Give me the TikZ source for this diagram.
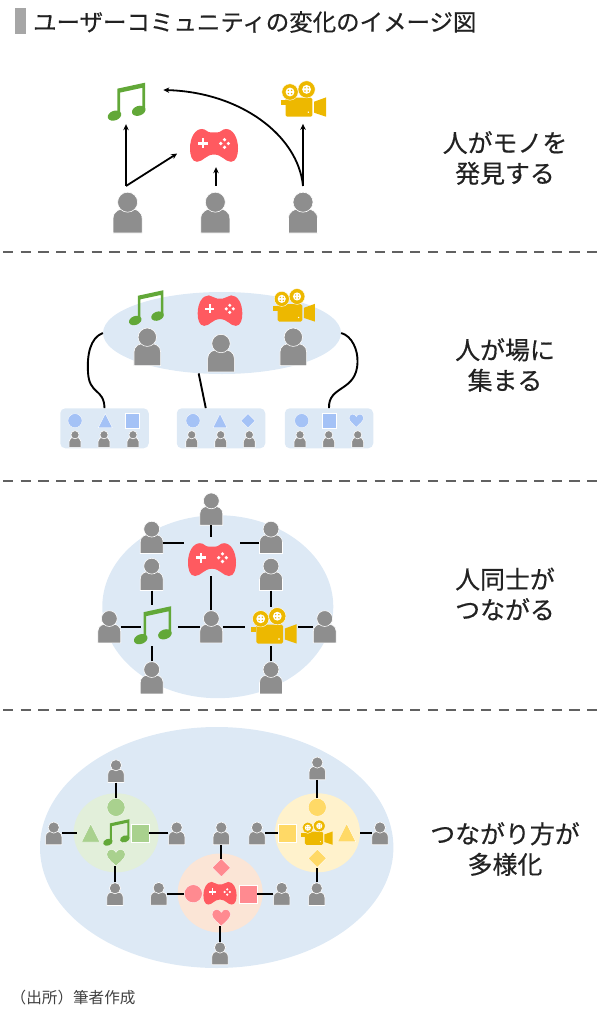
\documentclass[tikz,border=0pt]{standalone}
\usepackage{fontspec}
\newfontfamily\jpfont{Noto Sans CJK JP}
\newfontfamily\jpheavy[FakeBold=0.5]{Noto Sans CJK JP}
\usetikzlibrary{
	arrows.meta,
	shapes.geometric
}
\definecolor{usergray}{HTML}{8E8E8E}
\definecolor{notegreen}{HTML}{62A838}
\definecolor{padred}{HTML}{FF5A60}
\definecolor{camyellow}{HTML}{EDB800}
\definecolor{areablue}{HTML}{DDE9F5}
\definecolor{shapeblue}{HTML}{A4C2F6}
\definecolor{shapegreen}{HTML}{A9D18E}
\definecolor{shapered}{HTML}{FF8A90}
\definecolor{shapeyellow}{HTML}{FFD966}
\definecolor{bubblegreen}{HTML}{E2EFDA}
\definecolor{bubblered}{HTML}{FBE5D6}
\definecolor{bubbleyellow}{HTML}{FFF2CC}
\definecolor{inkdark}{HTML}{222222}
\tikzset{
	pics/userpic/.style = {code = {
		\path[fill=usergray, draw=white, line width=.6pt]
			(-14.5,20.5) -- (-14.5,6) .. controls (-14.5,-1) and (-9,-4) .. (0,-4)
			.. controls (9,-4) and (14.5,-1) .. (14.5,6) -- (14.5,20.5) -- cycle;
		\path[fill=usergray, draw=white, line width=.6pt] (0,-10.3) circle (10pt);
	}},
	pics/notepic/.style = {code = {
		\fill[notegreen] (-9.2,-13.3) -- (18.5,-19.3) -- (18.5,9) -- (15.8,9) -- (15.8,-14.2)
			-- (-6.5,-9.4) -- (-6.5,14) -- (-9.2,14) -- cycle;
		\fill[notegreen, rotate around={20:(-12,13.6)}] (-12,13.6) ellipse (7pt and 4.8pt);
		\fill[notegreen, rotate around={20:(12.2,8.8)}] (12.2,8.8) ellipse (7pt and 4.8pt);
	}},
	pics/padpic/.style = {code = {
		\fill[padred] (-17,16.3) .. controls (-22.5,16.3) and (-24,9) .. (-24,3)
			.. controls (-24,-8) and (-19,-16.5) .. (-12,-16.5)
			.. controls (-8,-16.5) and (-7,-13) .. (-3,-13) -- (3,-13)
			.. controls (7,-13) and (8,-16.5) .. (12,-16.5)
			.. controls (19,-16.5) and (24,-8) .. (24,3)
			.. controls (24,9) and (22.5,16.3) .. (17,16.3)
			.. controls (11,16.3) and (8,9) .. (0,9)
			.. controls (-8,9) and (-11,16.3) .. (-17,16.3) -- cycle;
		\fill[white] (-16,-3.3) rectangle (-6,-.7);
		\fill[white] (-12.3,-7) rectangle (-9.7,3);
		\foreach \dx/\dy in {0/-3.8, 0/3.8, -3.8/0, 3.8/0}
			\fill[white] (10.5+\dx,-2+\dy) circle (1.8pt);
	}},
	pics/campic/.style = {code = {
		\fill[camyellow, rounded corners=1.5pt] (-17.7,-1.5) rectangle (9,17.5);
		\fill[camyellow] (-22.7,.8) rectangle (-17.7,5.8);
		\fill[camyellow] (10.8,2.5) -- (22.7,-1.8) -- (22.7,17.5) -- (10.8,13.5) -- cycle;
		\foreach \rx/\ry/\rr in {-13.3/-7.2/8.2, 3.3/-9.8/8.6} {
			\path[fill=camyellow, draw=white, line width=.4pt] (\rx,\ry) circle (\rr pt);
			\fill[white] (\rx,\ry) circle (4.4pt);
			\foreach \dx/\dy in {-1.6/-1.6, -1.6/1.6, 1.6/-1.6, 1.6/1.6}
				\fill[camyellow] (\rx+\dx,\ry+\dy) circle (.8pt);
		}
		\fill[white] (5,13) circle (.8pt);
	}},
	pics/dotpic/.style = {code = {
		\path[fill=#1, draw=white, line width=.3pt] (0,0) circle (9pt);
	}},
	pics/tilepic/.style = {code = {
		\path[fill=#1, draw=white, line width=.3pt] (-9,-9) rectangle (9,9);
	}},
	pics/tripic/.style = {code = {
		\path[fill=#1, draw=white, line width=.3pt] (0,-9) -- (9,9) -- (-9,9) -- cycle;
	}},
	pics/gempic/.style = {code = {
		\path[fill=#1, draw=white, line width=.3pt] (0,-9) -- (9,0) -- (0,9) -- (-9,0) -- cycle;
	}},
	pics/heartpic/.style = {code = {
		\path[fill=#1, draw=white, line width=.3pt] (0,8.4) .. controls (-3,5) and (-9.3,1) .. (-9.3,-3.5)
			.. controls (-9.3,-6.5) and (-7,-8.4) .. (-4.7,-8.4)
			.. controls (-2.5,-8.4) and (-1,-7) .. (0,-5.3)
			.. controls (1,-7) and (2.5,-8.4) .. (4.7,-8.4)
			.. controls (7,-8.4) and (9.3,-6.5) .. (9.3,-3.5)
			.. controls (9.3,1) and (3,5) .. (0,8.4) -- cycle;
	}}
}

\begin{document}
\begin{tikzpicture}[
	x = 1pt, y = -1pt,
	icon/.style n args = {4}{
		inner sep=0pt, minimum width=#3pt, minimum height=#4pt,
		append after command={(\tikzlastnode.center) pic[scale=#2] {#1}}
	},
	user/.style = {icon={userpic}{#1}{29*#1}{41*#1}},
	musicnote/.style = {icon={notepic}{#1}{37*#1}{38*#1}},
	gamepad/.style = {icon={padpic}{#1}{48*#1}{33*#1}},
	moviecam/.style = {icon={campic}{#1}{45.4*#1}{35*#1}},
	dot/.style 2 args = {icon={dotpic=#1}{#2}{18*#2}{18*#2}},
	tile/.style 2 args = {icon={tilepic=#1}{#2}{18*#2}{18*#2}},
	tri/.style 2 args = {icon={tripic=#1}{#2}{18*#2}{18*#2}},
	gem/.style 2 args = {icon={gempic=#1}{#2}{18*#2}{18*#2}},
	heartmark/.style 2 args = {icon={heartpic=#1}{#2}{18.6*#2}{16.8*#2}},
	area/.style 2 args = {
		ellipse, fill=areablue, inner sep=0pt,
		minimum width=#1pt, minimum height=#2pt
	},
	bubble/.style = {
		ellipse, fill=#1, inner sep=0pt,
		minimum width=85pt, minimum height=79pt
	},
	panel/.style = {
		rectangle, fill=areablue, rounded corners=5pt, inner sep=0pt,
		minimum width=88.5pt, minimum height=40pt
	},
	arr/.style = {-{Stealth[length=6pt,width=5.5pt]}, line width=1.8pt, black},
	curve/.style = {line width=1.9pt, black},
	link/.style = {line width=2pt, black},
	cut/.style = {line width=2pt, color=black!62, dash pattern=on 10.3pt off 7.4pt},
	headbar/.style = {rectangle, fill=black!35, inner sep=0pt, minimum width=11pt, minimum height=26pt},
	headtext/.style = {anchor=west, inner sep=0pt, text=inkdark, font=\jpheavy\fontsize{23.45}{26}\selectfont},
	caption/.style = {align=center, inner sep=0pt, text=inkdark, font=\jpheavy\fontsize{24.9}{30.5}\selectfont},
	source/.style = {anchor=west, inner sep=0pt, text=black!75, font=\jpfont\fontsize{15.6}{18}\selectfont}
]
	\useasboundingbox (0,0) rectangle (600,1027);

	\node [headbar] (headmark) at (20.5,21) {};
	\node [headtext] (headline) at (33,22) {ユーザーコミュニティの変化のイメージ図};

	\draw [cut] (3,252.3) -- (597,252.3);
	\draw [cut] (3,481) -- (597,481);
	\draw [cut] (3,709.7) -- (597,709.7);

	\node [musicnote=1] (musicA) at (126.5,102) {};
	\node [gamepad=1] (gameA) at (214,145.5) {};
	\node [moviecam=1] (camA) at (303.3,99.2) {};
	\node [user=1] (userA1) at (127.6,212.5) {};
	\node [user=1] (userA2) at (215.3,212.5) {};
	\node [user=1] (userA3) at (303,212.5) {};
	\coordinate (startA1) at (126,186);
	\coordinate (startA2) at (216,186);
	\coordinate (startA3) at (303,186);
	\coordinate (endA3) at (163.3,90);
	\draw [arr, shorten >=3pt] (startA1) -- (startA1 |- musicA.south);
	\draw [arr, shorten >=15pt] (startA1) -- (gameA.west);
	\draw [arr, shorten >=5pt] (startA2) -- (startA2 |- gameA.south);
	\draw [arr, shorten >=7pt] (startA3) -- (startA3 |- camA.south);
	\draw [arr] (startA3) .. controls (298,135) and (240,92) .. (endA3);
	\node [caption] (textA) at (505,158) {人がモノを\\発見する};

	\node [area={238}{82}] (hubB) at (222,333) {};
	\node [musicnote=.92] (musicB) at (146.3,308) {};
	\node [gamepad=.93] (gameB) at (220,310.7) {};
	\node [moviecam=.92] (camB) at (294,305.5) {};
	\node [user=.92] (userB1) at (147.3,346.7) {};
	\node [user=.92] (userB2) at (221,353) {};
	\node [user=.92] (userB3) at (293.3,346.7) {};
	\node [panel] (boxB1) at (104.5,428.3) {};
	\node [panel] (boxB2) at (221,428.3) {};
	\node [panel] (boxB3) at (329,428.3) {};
	\node [dot={shapeblue}{.78}] (boxB1a) at (75,420.7) {};
	\node [tri={shapeblue}{.78}] (boxB1b) at (105.3,420.7) {};
	\node [tile={shapeblue}{.8}] (boxB1c) at (132.3,420.7) {};
	\node [dot={shapeblue}{.78}] (boxB2a) at (193,420.7) {};
	\node [tri={shapeblue}{.78}] (boxB2b) at (220,420.7) {};
	\node [gem={shapeblue}{.78}] (boxB2c) at (248,420.7) {};
	\node [dot={shapeblue}{.78}] (boxB3a) at (301.7,420.7) {};
	\node [tile={shapeblue}{.8}] (boxB3b) at (329.3,420.7) {};
	\node [heartmark={shapeblue}{.78}] (boxB3c) at (356.3,420.7) {};
	\node [user=.41] (userB1a) at (75,439) {};
	\node [user=.41] (userB1b) at (104,439) {};
	\node [user=.41] (userB1c) at (133,439) {};
	\node [user=.41] (userB2a) at (191.7,439) {};
	\node [user=.41] (userB2b) at (220.7,439) {};
	\node [user=.41] (userB2c) at (249.3,439) {};
	\node [user=.41] (userB3a) at (300,439) {};
	\node [user=.41] (userB3b) at (328.7,439) {};
	\node [user=.41] (userB3c) at (357.7,439) {};
	\draw [curve] (hubB.west) .. controls (90,338) and (87,355) .. (88,372)
		.. controls (89,395) and (104,388) .. (boxB1.north);
	\draw [curve] (hubB.240) -- (boxB2.127);
	\draw [curve] (hubB.east) .. controls (352,336) and (358,350) .. (357.5,362)
		.. controls (357,392) and (328,385) .. (boxB3.north);
	\node [caption] (textB) at (505,365) {人が場に\\集まる};

	\node [area={231}{183}] (hubC) at (217.8,606.7) {};
	\node [gamepad=1] (gameC) at (212,559.7) {};
	\node [musicnote=1] (musicC) at (152.7,625.5) {};
	\node [moviecam=1] (camC) at (274,626) {};
	\node [user=.79] (userC1) at (211.3,509) {};
	\node [user=.79] (userC2) at (151.7,537.3) {};
	\node [user=.79] (userC3) at (271,537.3) {};
	\node [user=.79] (userC4) at (151.7,574.3) {};
	\node [user=.79] (userC5) at (271,574.3) {};
	\node [user=.79] (userC6) at (109.3,626.7) {};
	\node [user=.79] (userC7) at (211.3,626.7) {};
	\node [user=.79] (userC8) at (324.7,626.7) {};
	\node [user=.79] (userC9) at (151.7,677.7) {};
	\node [user=.79] (userC10) at (271,677.7) {};
	\draw [link, shorten >=6pt] (userC1.south) -- (userC1.south |- gameC.north);
	\draw [link, shorten >=4pt] ([yshift=-6pt]userC2.east) -- ([yshift=-6pt]userC2.east -| gameC.west);
	\draw [link, shorten >=4pt] ([yshift=-6pt]userC3.west) -- ([yshift=-6pt]userC3.west -| gameC.east);
	\draw [link, shorten >=1pt] (userC4.south) -- (userC4.south |- musicC.north);
	\draw [link, shorten >=1pt] (userC5.south) -- (userC5.south |- camC.north);
	\draw [link, shorten >=-6.5pt] (userC6.east) -- (userC6.east -| musicC.west);
	\draw [link, shorten <=7pt] (musicC.east |- userC7.west) -- (userC7.west);
	\draw [link] (userC7.north) -- (userC7.north |- gameC.south);
	\draw [link, shorten >=6pt] (userC7.east) -- (userC7.east -| camC.west);
	\draw [link, shorten >=1pt] (userC8.west) -- (userC8.west -| camC.east);
	\draw [link, shorten >=1.5pt] (userC9.north) -- (userC9.north |- musicC.south);
	\draw [link, shorten >=2.5pt] (userC10.north) -- (userC10.north |- camC.south);
	\node [caption] (textC) at (505,594) {人同士が\\つながる};

	\node [area={353.4}{241}] (hubD) at (216.7,847.5) {};
	\node [bubble=bubblegreen] (greenD) at (116.2,832.8) {};
	\node [bubble=bubblered] (redD) at (220.2,893) {};
	\node [bubble=bubbleyellow] (yellowD) at (317.5,832.8) {};

	\node [musicnote=.7] (musicD) at (116.3,832.7) {};
	\node [dot={shapegreen}{1}] (greenDa) at (116,807.3) {};
	\node [tri={shapegreen}{1}] (greenDb) at (90.7,833) {};
	\node [tile={shapegreen}{1}] (greenDc) at (140,832.7) {};
	\node [heartmark={shapegreen}{1}] (greenDd) at (116,857.7) {};
	\node [user=.56] (userD1) at (116,771) {};
	\node [user=.56] (userD2) at (53.7,833.3) {};
	\node [user=.56] (userD3) at (176.7,833.3) {};
	\node [user=.56] (userD4) at (115,894) {};
	\draw [link] (userD1.south) -- (userD1.south |- greenDa.north);
	\draw [link, shorten >=4.3pt] (userD2.east) -- (userD2.east -| greenDb.west);
	\draw [link] (userD3.west) -- (userD3.west -| greenDc.east);
	\draw [link] (userD4.north) -- (userD4.north |- greenDd.south);

	\node [gamepad=.69] (gameD) at (220,893.3) {};
	\node [gem={shapered}{1}] (redDa) at (221.3,867.7) {};
	\node [dot={shapered}{1}] (redDb) at (193.3,893.7) {};
	\node [tile={shapered}{1}] (redDc) at (248,893.7) {};
	\node [heartmark={shapered}{1}] (redDd) at (221.3,917.7) {};
	\node [user=.56] (userD5) at (221.3,833.3) {};
	\node [user=.56] (userD6) at (158.7,893.7) {};
	\node [user=.56] (userD7) at (281.7,893.7) {};
	\node [user=.56] (userD8) at (220,953.3) {};
	\draw [link] (userD5.south) -- (userD5.south |- redDa.north);
	\draw [link] (userD6.east) -- (userD6.east -| redDb.west);
	\draw [link] (userD7.west) -- (userD7.west -| redDc.east);
	\draw [link] (userD8.north) -- (userD8.north |- redDd.south);

	\node [moviecam=.69] (camD) at (317,832.7) {};
	\node [dot={shapeyellow}{1}] (yellowDa) at (317.3,807.3) {};
	\node [tile={shapeyellow}{1}] (yellowDb) at (287.3,832.7) {};
	\node [tri={shapeyellow}{1}] (yellowDc) at (346.7,832.7) {};
	\node [gem={shapeyellow}{1}] (yellowDd) at (317.3,858.3) {};
	\node [user=.56] (userD9) at (317.3,768.3) {};
	\node [user=.56] (userD10) at (257,833.3) {};
	\node [user=.56] (userD11) at (380,833.3) {};
	\node [user=.56] (userD12) at (316.7,894) {};
	\draw [link] (userD9.south) -- (userD9.south |- yellowDa.north);
	\draw [link] (userD10.east) -- (userD10.east -| yellowDb.west);
	\draw [link, shorten >=4.3pt] (userD11.west) -- (userD11.west -| yellowDc.east);
	\draw [link] (userD12.north) -- (userD12.north |- yellowDd.south);
	\node [caption] (textD) at (505,849) {つながり方が\\多様化};

	\node [source] (sourcetext) at (10.5,998) {（出所）筆者作成};
\end{tikzpicture}
\end{document}
